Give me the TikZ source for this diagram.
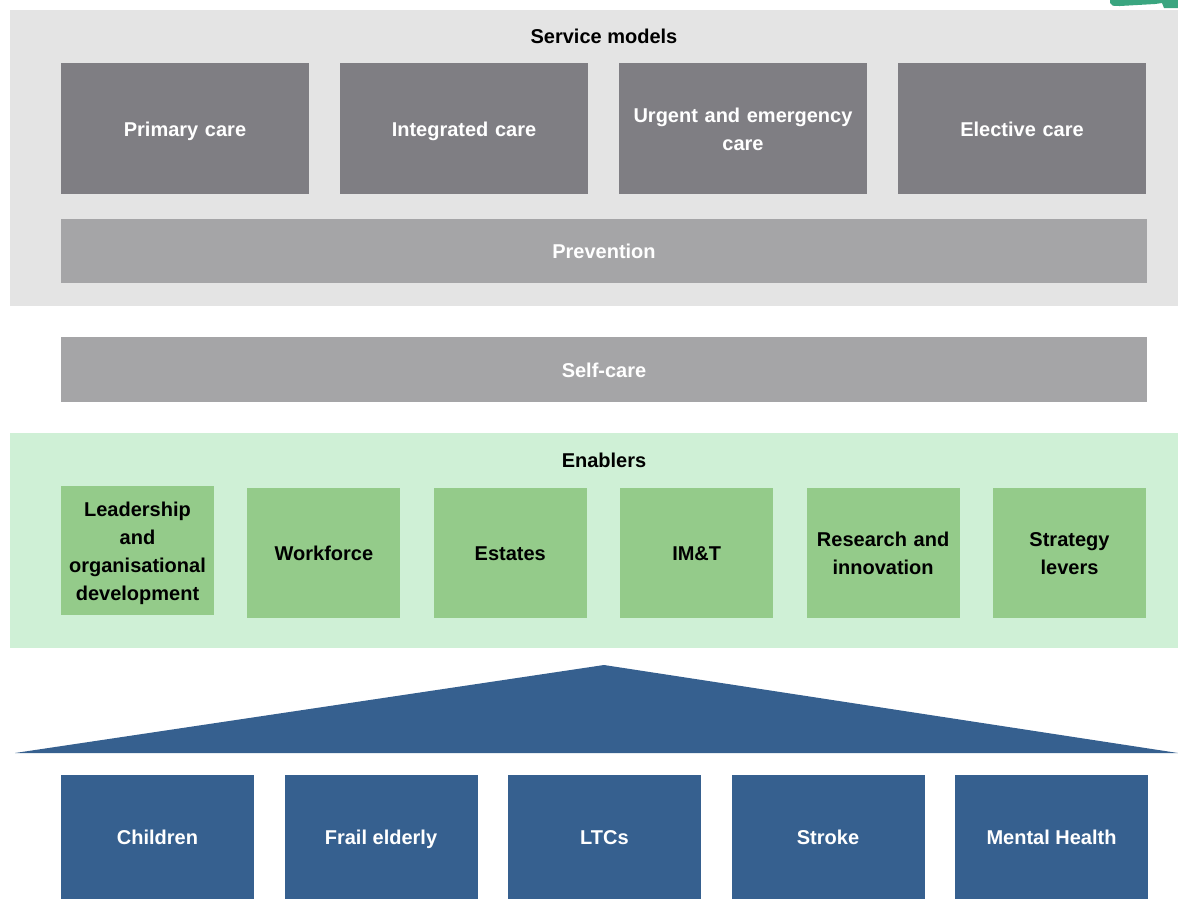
\documentclass[tikz,border=0pt]{standalone}
\usepackage{fontspec}
\setmainfont{Liberation Sans}
\usepackage{tikz}
\usetikzlibrary{positioning}
\definecolor{panelgrey}{RGB}{228,228,228}
\definecolor{servicegrey}{RGB}{127,126,131}
\definecolor{bandgrey}{RGB}{165,165,167}
\definecolor{enablerpanel}{RGB}{207,240,214}
\definecolor{enablergreen}{RGB}{148,203,138}
\definecolor{groupblue}{RGB}{54,96,143}
\definecolor{swooshgreen}{RGB}{58,165,127}
\newcommand{\boxstrut}{\rule[-5pt]{0pt}{25pt}}
\tikzstyle{panel}=[rectangle, inner sep=0pt, outer sep=0pt, minimum width=1168pt, anchor=north west]
\tikzstyle{heading}=[font=\bfseries\fontsize{20}{28}\selectfont, text=black]
\tikzstyle{service}=[rectangle, inner sep=0pt, outer sep=0pt, minimum width=248pt, minimum height=131pt, text width=230pt, align=center, fill=servicegrey, text=white, font=\bfseries\fontsize{20}{28}\selectfont, execute at begin node=\boxstrut, execute at end node=\boxstrut]
\tikzstyle{band}=[rectangle, inner sep=0pt, outer sep=0pt, minimum width=1086pt, minimum height=65pt, anchor=north west, fill=bandgrey, text=white, font=\bfseries\fontsize{20}{28}\selectfont, execute at begin node=\boxstrut, execute at end node=\boxstrut]
\tikzstyle{enabler}=[rectangle, inner sep=0pt, outer sep=0pt, minimum width=153pt, minimum height=130pt, text width=145pt, align=center, fill=enablergreen, text=black, font=\bfseries\fontsize{20}{28}\selectfont, execute at begin node=\boxstrut, execute at end node=\boxstrut]
\tikzstyle{group}=[rectangle, inner sep=0pt, outer sep=0pt, minimum width=193pt, minimum height=124pt, align=center, fill=groupblue, text=white, font=\bfseries\fontsize{20}{28}\selectfont, execute at begin node=\boxstrut, execute at end node=\boxstrut]

\begin{document}
\begin{tikzpicture}[x=1pt, y=1pt]
		\useasboundingbox [fill=white] (0,0) rectangle (1178,-900);
		\fill [swooshgreen] (1110,0) -- (1110,-3) .. controls (1112,-6) .. (1120,-6) -- (1155,-4) -- (1162,-3) -- (1164,-8) -- (1178,-8) -- (1178,0) -- cycle;

		% service models
		\node (servicepanel) [panel, minimum height=296pt, fill=panelgrey] at (10,-10) {};
		\node (servicetitle) [heading] at (604,-36) {Service models};
		\node (primary) [service, anchor=north west] at (61,-63) {Primary care};
		\node (integrated) [service, right=31pt of primary] {Integrated care};
		\node (urgent) [service, right=31pt of integrated] {Urgent and emergency\\care};
		\node (elective) [service, right=31pt of urgent] {Elective care};
		\node (prevention) [band, minimum height=64pt] at (61,-219) {Prevention};

		\node (selfcare) [band] at (61,-337) {Self-care};

		% enablers
		\node (enablerpanel) [panel, minimum height=215pt, fill=enablerpanel] at (10,-433) {};
		\node (enablertitle) [heading] at (604,-460) {Enablers};
		\node (leadership) [enabler, minimum height=129pt, anchor=north west] at (61,-486) {Leadership\\and\\organisational\\development};
		\node (workforce) [enabler, right=33.4pt of leadership, yshift=-2.5pt] {Workforce};
		\node (estates) [enabler, right=33.4pt of workforce] {Estates};
		\node (imt) [enabler, right=33.4pt of estates] {IM\&T};
		\node (research) [enabler, right=33.4pt of imt] {Research and\\innovation};
		\node (strategy) [enabler, right=33.4pt of research] {Strategy\\levers};

		% population groups
		\fill [groupblue] (15,-753) -- (604,-665) -- (1178,-753) -- cycle;
		\node (children) [group, anchor=north west] at (61,-775) {Children};
		\node (frail) [group, right=30.5pt of children] {Frail elderly};
		\node (ltcs) [group, right=30.5pt of frail] {LTCs};
		\node (stroke) [group, right=30.5pt of ltcs] {Stroke};
		\node (mental) [group, right=30.5pt of stroke] {Mental Health};
	\end{tikzpicture}
\end{document}
